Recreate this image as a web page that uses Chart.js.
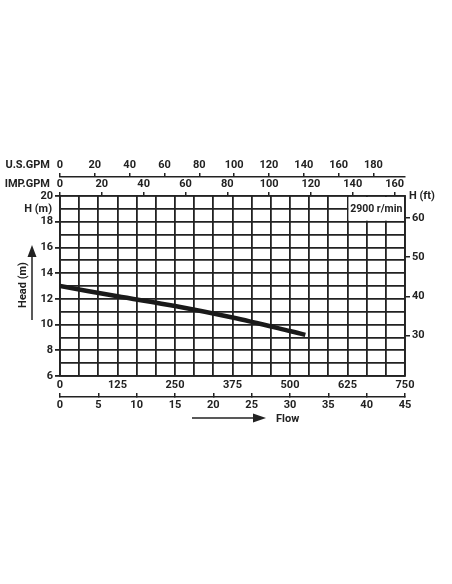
<!DOCTYPE html>
<html>
<head>
<meta charset="utf-8">
<script src="https://cdn.jsdelivr.net/npm/chart.js@4.4.0/dist/chart.umd.min.js"></script>
<style>
  html, body { margin: 0; padding: 0; background: #fff; }
  #wrap { width: 452px; height: 584px; }
</style>
</head>
<body>
<div id="wrap"><canvas id="pumpChart" width="452" height="584"></canvas></div>
<script>
// pump curve, flow in m3/h, head in m
const flowM3h = [0, 7.5, 15, 22.5, 30, 32];
const headM = [13.0, 12.2, 11.45, 10.55, 9.5, 9.2];

// tick labels of each axis
const usgpmTicks = [0, 20, 40, 60, 80, 100, 120, 140, 160, 180];
const impgpmTicks = [0, 20, 40, 60, 80, 100, 120, 140, 160];
const lpmTicks = [0, 125, 250, 375, 500, 625, 750];
const m3hTicks = [0, 5, 10, 15, 20, 25, 30, 35, 40, 45];
const ftTicks = [30, 40, 50, 60];

const speedLabel = '2900 r/min';

// unit conversions
const M3H_PER_USGPM = 0.2271247;
const M3H_PER_IMPGPM = 0.2727654;
const LPM_PER_M3H = 1000 / 60;
const M_PER_FT = 0.3048;

const FLOW_MAX = 45;
const HEAD_MIN = 6, HEAD_MAX = 20;

const INK = '#222';
const FONT = 'Roboto, "DejaVu Sans Condensed", sans-serif';

Chart.defaults.font.family = FONT;
Chart.defaults.font.size = 11;
Chart.defaults.font.weight = 'bold';
Chart.defaults.color = INK;

const setTicks = list => scale => { scale.ticks = list.map(v => ({ value: v })); };
const fixSize = (prop, n) => scale => { scale[prop] = n; };

const labelAxis = (pos, max, list, size, tickLen, pad) => ({
    type: 'linear',
    position: pos,
    min: 0,
    max: max,
    afterBuildTicks: setTicks(list),
    afterFit: fixSize('height', size),
    grid: { drawOnChartArea: false, drawTicks: tickLen !== 0, tickLength: tickLen, color: INK, lineWidth: 1.5 },
    border: { display: true, color: INK, width: 1.5 },
    ticks: { padding: pad, maxRotation: 0, autoSkip: false }
});

const annotations = {
    id: 'annotations',
    beforeDatasetsDraw(chart) {
        const { ctx, scales: { x, y } } = chart;
        const l = x.getPixelForValue(37.5), r = x.getPixelForValue(FLOW_MAX);
        const t = y.getPixelForValue(20), b = y.getPixelForValue(18);
        ctx.save();
        ctx.fillStyle = '#fff';
        ctx.fillRect(l + 1, t + 1, r - l - 2, b - t - 2);
        ctx.fillStyle = INK;
        ctx.font = 'bold 10.5px ' + FONT;
        ctx.textAlign = 'center';
        ctx.textBaseline = 'middle';
        ctx.fillText(speedLabel, (l + r) / 2, (t + b) / 2 + 1);
        ctx.restore();
    },
    afterDraw(chart) {
        const { ctx, chartArea: a, scales } = chart;
        ctx.save();
        ctx.fillStyle = INK;
        ctx.strokeStyle = INK;
        ctx.font = 'bold 11px ' + FONT;
        ctx.textBaseline = 'middle';

        // unit names left of the top axes
        ctx.textAlign = 'right';
        ctx.fillText('U.S.GPM', a.left - 10, scales.usgpm.bottom - 12);
        ctx.fillText('IMP.GPM', a.left - 10, scales.impgpm.bottom - 12);
        ctx.fillText('H (m)', a.left - 8, (a.top + scales.y.getPixelForValue(18)) / 2);
        ctx.textAlign = 'left';
        ctx.fillText('H (ft)', a.right + 4, a.top);

        // head arrow + label
        ctx.lineWidth = 1.5;
        const ax = a.left - 28;
        ctx.beginPath();
        ctx.moveTo(ax, a.top + 124);
        ctx.lineTo(ax, a.top + 58);
        ctx.stroke();
        ctx.beginPath();
        ctx.moveTo(ax, a.top + 49);
        ctx.lineTo(ax - 4.5, a.top + 61);
        ctx.lineTo(ax + 4.5, a.top + 61);
        ctx.closePath();
        ctx.fill();
        ctx.save();
        ctx.translate(a.left - 37, a.top + 89);
        ctx.rotate(-Math.PI / 2);
        ctx.textAlign = 'center';
        ctx.fillText('Head (m)', 0, 0);
        ctx.restore();

        // flow arrow + label
        const fy = scales.m3h.bottom + 1;
        ctx.beginPath();
        ctx.moveTo(a.left + 132, fy);
        ctx.lineTo(a.left + 196, fy);
        ctx.stroke();
        ctx.beginPath();
        ctx.moveTo(a.left + 206, fy);
        ctx.lineTo(a.left + 193, fy - 4.5);
        ctx.lineTo(a.left + 193, fy + 4.5);
        ctx.closePath();
        ctx.fill();
        ctx.textAlign = 'left';
        ctx.fillText('Flow', a.left + 216, fy + 1);
        ctx.restore();
    }
};

new Chart(document.getElementById('pumpChart').getContext('2d'), {
    type: 'line',
    data: {
        datasets: [{
            data: flowM3h.map((f, i) => ({ x: f, y: headM[i] })),
            borderColor: '#1a1a1a',
            borderWidth: 4.5,
            pointRadius: 0,
            tension: 0.3,
            fill: false,
            xAxisID: 'x',
            yAxisID: 'y'
        }]
    },
    options: {
        responsive: false,
        animation: false,
        devicePixelRatio: 1,
        layout: { padding: { left: 0, right: 0, top: 158, bottom: 167 } },
        plugins: { legend: { display: false }, tooltip: { enabled: false } },
        scales: {
            // grid scale, m3/h, one cell = 2.5
            x: {
                type: 'linear',
                position: 'bottom',
                min: 0,
                max: FLOW_MAX,
                ticks: { stepSize: 2.5, display: false, autoSkip: false },
                afterFit: fixSize('height', 0),
                grid: { color: INK, lineWidth: 1.8, drawTicks: false },
                border: { display: true, color: INK, width: 1.8 }
            },
            lpm: Object.assign(labelAxis('bottom', FLOW_MAX * LPM_PER_M3H, lpmTicks, 21, 0, 3), {
                border: { display: false },
                grid: { display: false, drawTicks: false }
            }),
            m3h: labelAxis('bottom', FLOW_MAX, m3hTicks, 20, -4, 6),
            impgpm: labelAxis('top', FLOW_MAX / M3H_PER_IMPGPM, impgpmTicks, 19, 4, 1),
            usgpm: labelAxis('top', FLOW_MAX / M3H_PER_USGPM, usgpmTicks, 19, 4, 1),
            y: {
                type: 'linear',
                position: 'left',
                min: HEAD_MIN,
                max: HEAD_MAX,
                afterFit: fixSize('width', 60),
                ticks: {
                    stepSize: 1,
                    padding: 2,
                    autoSkip: false,
                    callback: v => (v % 2 === 0 ? v : '')
                },
                grid: {
                    color: INK,
                    lineWidth: 1.8,
                    tickLength: 5,
                    tickColor: c => (c.tick && c.tick.value % 2 === 0 ? INK : 'rgba(0,0,0,0)')
                },
                border: { display: true, color: INK, width: 1.8 }
            },
            yft: {
                type: 'linear',
                position: 'right',
                min: HEAD_MIN / M_PER_FT,
                max: HEAD_MAX / M_PER_FT,
                afterBuildTicks: setTicks(ftTicks),
                afterFit: fixSize('width', 47),
                ticks: { padding: 2 },
                grid: { drawOnChartArea: false, tickLength: 5, color: INK, lineWidth: 1.5 },
                border: { display: true, color: INK, width: 1.8 }
            }
        }
    },
    plugins: [annotations]
});
</script>
</body>
</html>
